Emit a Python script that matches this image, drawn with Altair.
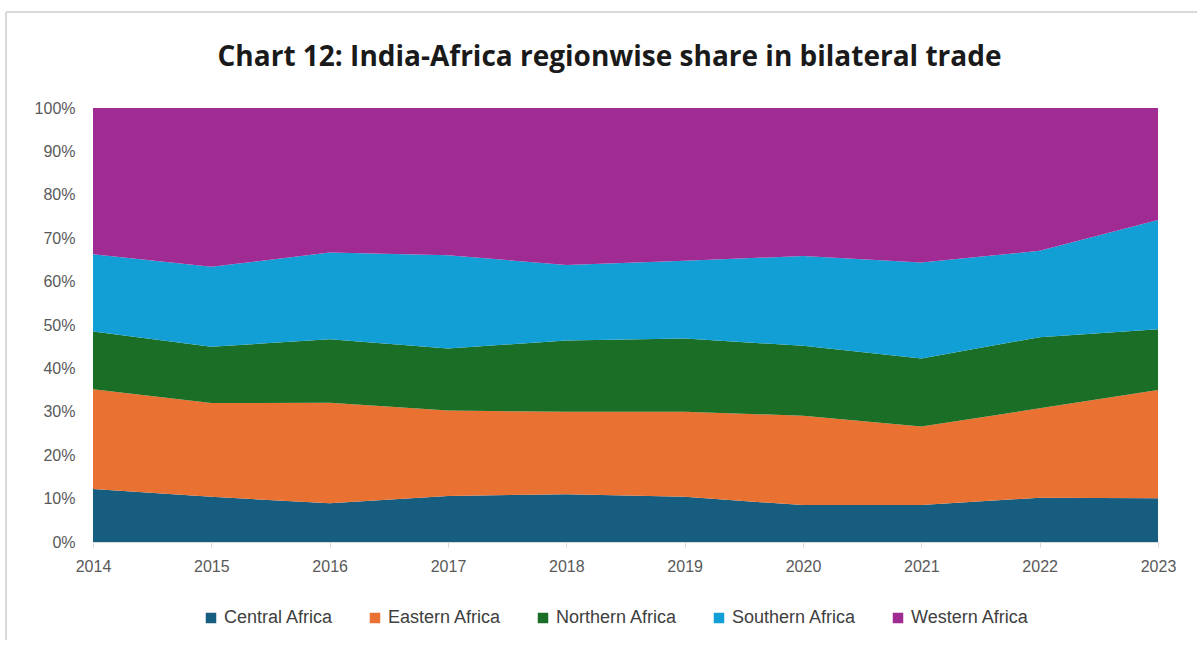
import altair as alt
import pandas as pd

years = [2014, 2015, 2016, 2017, 2018, 2019, 2020, 2021, 2022, 2023]
regions = ["Central Africa", "Eastern Africa", "Northern Africa", "Southern Africa", "Western Africa"]
colors = ["#165d80", "#e97132", "#1b6e25", "#129fd6", "#a02b93"]

central = [12.2, 10.4, 8.9, 10.6, 11.0, 10.4, 8.5, 8.5, 10.2, 10.1]
eastern = [23.0, 21.6, 23.2, 19.7, 19.0, 19.6, 20.6, 18.1, 20.6, 24.9]
northern = [13.3, 13.0, 14.6, 14.3, 16.4, 16.9, 16.1, 15.7, 16.4, 14.0]
southern = [17.8, 18.4, 20.0, 21.5, 17.4, 17.9, 20.7, 22.1, 19.9, 25.2]
western = [33.7, 36.6, 33.3, 33.9, 36.2, 35.2, 34.1, 35.6, 32.9, 25.8]

series = [central, eastern, northern, southern, western]
rows = []
for i, reg in enumerate(regions):
    for y, v in zip(years, series[i]):
        rows.append({"Year": y, "Region": reg, "Share": v, "order": i})
df = pd.DataFrame(rows)

area = alt.Chart(df).mark_area(opacity=1).encode(
    x=alt.X("Year:Q",
            scale=alt.Scale(domain=[2014, 2023], nice=False, zero=False),
            axis=alt.Axis(values=years, format="d", title=None, grid=False,
                          labelFlush=False, domainColor="#d9d9d9", tickColor="#d9d9d9",
                          tickSize=5, labelPadding=11, labelFontSize=16,
                          labelColor="#595959", labelFont="Liberation Sans")),
    y=alt.Y("Share:Q", stack="normalize",
            scale=alt.Scale(domain=[0, 1]),
            axis=alt.Axis(values=[i / 10 for i in range(11)], format=".0%", title=None,
                          grid=False, domain=False, ticks=False, labelPadding=18,
                          labelFontSize=16, labelColor="#595959", labelFont="Liberation Sans")),
    color=alt.Color("Region:N",
                    scale=alt.Scale(domain=regions, range=colors),
                    legend=alt.Legend(title=None, orient="none", direction="horizontal",
                                      legendX=109, legendY=501, symbolType="square",
                                      symbolSize=110, symbolStrokeWidth=0,
                                      labelFontSize=18, labelColor="#404040",
                                      labelFont="Liberation Sans", columnPadding=32,
                                      symbolOpacity=1)),
    order=alt.Order("order:Q"),
)

frame_top = alt.Chart(df).mark_rule(color="#d9d9d9", strokeWidth=2).encode(
    x=alt.value(-87), x2=alt.value(1104), y=alt.value(-96))
frame_left = alt.Chart(df).mark_rule(color="#d9d9d9", strokeWidth=2).encode(
    x=alt.value(-87), y=alt.value(-96), y2=alt.value(532))

chart = alt.layer(area, frame_top, frame_left).properties(
    width=1065, height=434,
    title=alt.TitleParams("Chart 12: India-Africa regionwise share in bilateral trade",
                          font="Open Sans", fontSize=28, fontWeight="bold", color="#1a1a1a",
                          anchor="middle", dx=-16, offset=-61),
    autosize=alt.AutoSizeParams(type="none"),
    padding={"left": 93, "top": 108, "right": 39, "bottom": 104},
    background="white",
).configure_view(stroke=None)

chart.save("out.html", embed_options={"renderer": "svg", "actions": False})
